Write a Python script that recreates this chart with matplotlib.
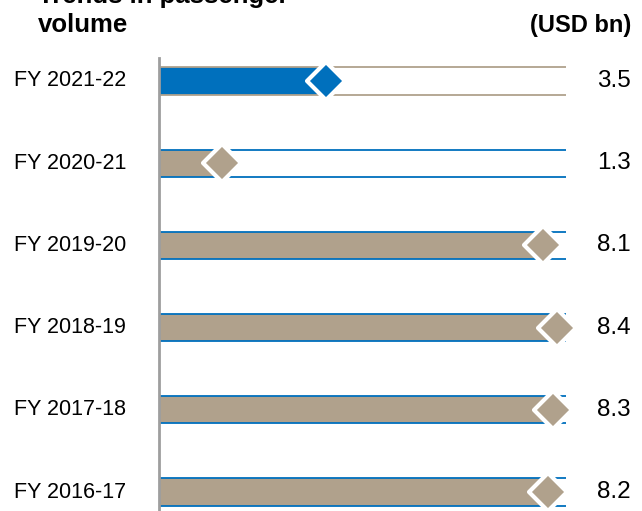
import matplotlib.pyplot as plt
from matplotlib.markers import MarkerStyle

years = ["FY 2021-22", "FY 2020-21", "FY 2019-20", "FY 2018-19", "FY 2017-18", "FY 2016-17"]
values = [3.5, 1.3, 8.1, 8.4, 8.3, 8.2]
highlight = [True, False, False, False, False, False]

BLUE = "#0070bd"
SAND = "#b0a18c"
W, H = 642, 511

fig = plt.figure(figsize=(W / 100, H / 100), dpi=100)
ax = fig.add_axes([160 / W, 0, 406 / W, (H - 58) / H])

xmax = 8.58
bar_h = 0.33
diamond = MarkerStyle("D", joinstyle="round")

ax.set_xlim(0, xmax)
ax.set_ylim(5 + 19 / 82.2, -(81 - 58) / 82.2)

for i, (label, v, hi) in enumerate(zip(years, values, highlight)):
    fill = BLUE if hi else SAND
    rule = SAND if hi else BLUE
    ax.barh(i, v, height=bar_h, color=fill, lw=0, zorder=1)
    ax.hlines([i - bar_h / 2, i + bar_h / 2], 0, xmax, color=rule, lw=1.3, zorder=2)
    ax.plot(v, i, marker=diamond, ms=19, color=fill, mec="white", mew=3,
            zorder=3, clip_on=False)

    # category label and value
    y = ax.transData.transform((0, i))[1] / H
    fig.text(14 / W, y, label, ha="left", va="center", fontsize=15.5, family="Liberation Sans")
    fig.text(631 / W, y, f"{v:.1f}", ha="right", va="center", fontsize=17.5, family="Liberation Sans")

for s in ["top", "right", "bottom"]:
    ax.spines[s].set_visible(False)
ax.spines["left"].set_color("#9e9e9e")
ax.spines["left"].set_linewidth(2)
ax.spines["left"].set_position(("outward", 1))
ax.set_xticks([])
ax.set_yticks([])

fig.text(38 / W, 1 - 3 / H, "Trends in passenger", ha="left", va="baseline",
         fontsize=18.5, fontweight="bold", family="Liberation Sans")
fig.text(38 / W, 1 - 32 / H, "volume", ha="left", va="baseline",
         fontsize=18.5, fontweight="bold", family="Liberation Sans")
fig.text(631 / W, 1 - 32 / H, "(USD bn)", ha="right", va="baseline",
         fontsize=17, fontweight="bold", family="Liberation Sans")

fig.savefig("out.png", dpi=100)
